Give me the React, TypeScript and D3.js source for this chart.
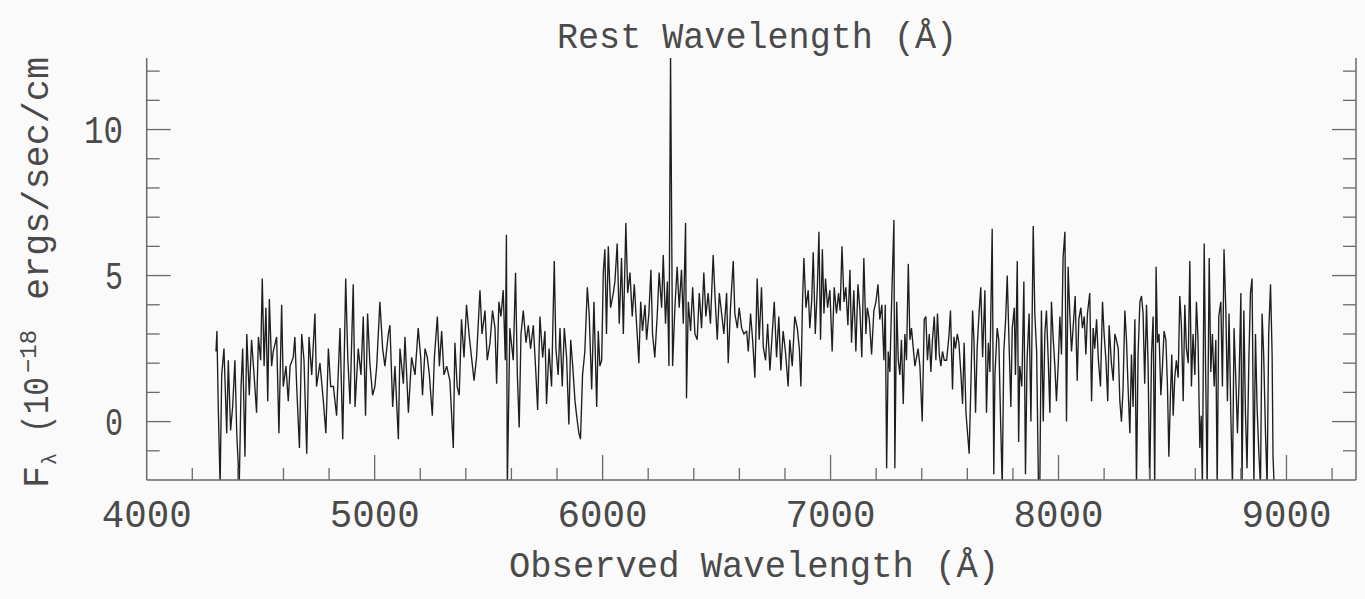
import React from "react";
import * as d3 from "d3";

// Observed wavelength (Å) / flux (1e-18 ergs/sec/cm^2/Å) pairs
const seg4300: [number, number][] = [
  [4304,2.4],[4308,3.1],[4314,0.5],[4322,-2.2],[4329,1.6],[4339,2.5],[4351,-0.4],[4358,2.1],[4368,-0.3],[4377,0.5],[4387,2.1],[4395,-0.4],[4406,-2.2],[4414,1.2],[4421,2.5],[4431,-1.2],[4439,3.0],[4450,0.9],[4460,2.8],[4471,1.6],[4482,0.3],[4490,2.9],[4500,2.1],[4507,4.9],[4515,1.9],[4523,3.9],[4531,0.7],[4538,4.2],[4548,1.9],[4555,2.4],[4570,2.9],[4580,-0.4],[4592,4.0],[4599,1.2],[4611,1.9],[4621,0.7],[4629,1.9],[4643,2.2],[4650,2.9],[4658,1.2],[4670,-0.9],[4680,3.0],[4690,2.1],[4702,-1.1],[4712,2.9],[4724,1.6],[4738,3.7],[4745,1.2],[4760,2.0],[4775,0.7],[4786,-0.4],[4797,2.5],
];
const seg4800: [number, number][] = [
  [4807,1.2],[4819,1.2],[4833,0.2],[4848,3.2],[4860,-0.6],[4873,4.9],[4882,2.2],[4892,0.6],[4906,4.7],[4914,0.5],[4928,2.5],[4940,1.6],[4950,3.6],[4960,0.2],[4969,3.7],[4979,2.0],[4991,0.9],[5001,1.2],[5009,1.9],[5023,4.1],[5035,2.5],[5045,1.9],[5060,3.0],[5067,3.3],[5079,0.5],[5089,1.9],[5104,-0.6],[5111,2.5],[5126,1.3],[5133,2.9],[5148,0.3],[5162,2.2],[5177,1.6],[5191,3.2],[5202,2.2],[5210,0.9],[5221,2.5],[5231,2.2],[5240,1.6],[5253,0.2],[5262,2.2],[5275,3.6],[5284,1.9],[5294,3.1],
];
const seg5300: [number, number][] = [
  [5304,1.6],[5316,1.9],[5330,1.4],[5345,-0.9],[5352,2.7],[5362,1.2],[5371,0.9],[5381,3.5],[5392,2.2],[5403,4.0],[5414,3.0],[5425,2.2],[5436,1.4],[5447,2.2],[5462,4.5],[5471,3.0],[5484,3.8],[5494,2.1],[5506,2.7],[5517,3.8],[5528,3.2],[5535,1.3],[5545,4.1],[5554,3.6],[5564,4.5],[5573,2.1],[5578,6.4],[5582,-2.3],[5593,3.2],[5608,2.1],[5618,5.1],[5626,1.6],[5634,-0.2],[5642,3.0],[5652,3.8],[5664,2.7],[5674,3.3],[5684,2.5],[5696,3.3],[5707,1.7],[5715,0.4],[5725,3.6],[5737,2.2],[5747,3.1],[5754,0.6],[5765,2.5],[5776,1.2],[5788,5.5],[5795,2.5],
];
const seg5800: [number, number][] = [
  [5805,1.6],[5813,3.2],[5823,1.2],[5832,3.2],[5842,2.2],[5852,-0.1],[5860,2.8],[5868,2.0],[5879,0.7],[5886,0.2],[5896,-0.4],[5903,-0.6],[5912,1.6],[5922,2.4],[5933,4.6],[5941,3.7],[5952,1.1],[5962,4.1],[5974,0.5],[5981,3.1],[5988,1.9],[5996,2.1],[6003,5.1],[6010,5.9],[6017,3.0],[6025,6.0],[6035,3.9],[6047,4.4],[6054,4.8],[6064,6.1],[6073,3.35],[6083,5.6],[6091,3.0],[6102,6.8],[6110,4.4],[6120,5.1],[6130,3.6],[6139,4.7],[6149,3.35],[6159,2.0],[6167,4.1],[6175,3.1],[6186,4.0],[6193,2.8],[6203,3.7],[6212,5.2],[6219,3.0],[6229,2.2],[6240,3.7],[6248,5.1],[6259,3.9],[6266,5.7],[6276,3.35],[6284,4.8],[6291,1.9],
];
const seg6300: [number, number][] = [
  [6298,12.6],[6307,1.9],[6317,3.9],[6327,5.3],[6336,3.9],[6346,5.2],[6354,3.35],[6364,6.8],[6368,0.8],[6376,4.1],[6386,3.1],[6395,4.6],[6405,3.0],[6415,2.8],[6424,4.4],[6434,3.2],[6444,5.1],[6453,3.6],[6463,4.4],[6473,3.35],[6485,5.7],[6493,4.3],[6503,2.8],[6512,4.4],[6522,3.7],[6532,3.0],[6544,4.4],[6551,2.0],[6561,3.9],[6573,5.5],[6580,3.7],[6591,3.2],[6599,3.9],[6610,3.2],[6620,3.0],[6632,3.1],[6639,2.4],[6649,3.7],[6658,2.8],[6668,1.5],[6678,4.9],[6687,2.8],[6697,4.6],[6705,2.55],[6715,2.1],[6724,3.35],[6734,1.75],[6744,3.0],[6753,4.1],[6763,2.2],[6773,3.6],[6782,1.75],[6792,3.1],[6802,2.4],[6814,1.2],[6821,2.8],[6832,1.9],[6843,3.6],
];
const seg6850: [number, number][] = [
  [6854,3.2],[6863,2.5],[6870,1.2],[6877,4.1],[6883,5.6],[6892,3.9],[6902,4.5],[6909,3.2],[6917,4.1],[6924,5.8],[6933,3.0],[6942,4.6],[6949,6.5],[6956,2.8],[6964,5.9],[6971,3.7],[6978,4.9],[6987,3.9],[6997,4.5],[7007,2.4],[7016,4.6],[7026,3.7],[7035,4.4],[7042,3.8],[7050,6.0],[7059,4.1],[7067,4.6],[7076,3.3],[7085,5.2],[7092,2.7],[7102,4.5],[7111,2.4],[7120,4.7],[7129,3.8],[7137,2.2],[7146,5.6],[7155,3.0],[7161,3.9],[7170,3.5],[7180,2.3],[7190,3.8],[7199,4.1],[7208,4.7],[7216,3.5],[7225,4.0],[7234,2.1],[7240,4.0],[7246,-1.6],[7253,2.4],[7260,1.7],[7269,4.4],[7278,6.9],[7282,-1.6],[7290,4.1],[7297,2.1],[7304,1.6],[7311,2.8],[7319,0.6],[7326,3.0],[7333,2.1],[7341,5.4],[7348,2.8],[7355,3.2],[7363,2.5],[7370,1.9],[7377,2.2],[7384,2.5],[7392,1.9],
];
const seg7400: [number, number][] = [
  [7402,0.0],[7411,3.5],[7418,3.6],[7425,2.1],[7433,3.0],[7440,1.7],[7447,2.8],[7455,3.6],[7462,2.1],[7469,3.7],[7477,2.3],[7484,1.9],[7491,2.4],[7499,2.1],[7509,2.1],[7519,2.9],[7526,3.8],[7535,1.1],[7541,2.9],[7548,2.5],[7556,3.0],[7563,2.7],[7572,1.6],[7579,0.6],[7586,2.7],[7594,0.3],[7601,-0.4],[7608,-1.1],[7616,1.4],[7623,3.8],[7629,2.8],[7636,0.3],[7643,2.5],[7652,3.8],[7659,4.6],[7667,2.2],[7677,4.5],[7684,0.3],[7692,2.7],[7699,1.7],[7709,6.6],[7716,-1.8],[7721,1.6],[7731,3.2],[7738,2.8],[7746,0.0],[7753,-2.2],[7760,2.4],[7768,3.5],[7775,5.0],[7784,2.4],[7791,0.5],[7797,3.2],[7806,3.9],[7811,1.6],[7819,5.5],[7825,-0.7],[7830,1.9],[7839,1.2],[7848,4.8],[7855,-1.8],[7862,2.1],[7871,3.7],[7879,0.0],[7889,6.7],[7896,3.7],
];
const seg7900: [number, number][] = [
  [7904,2.4],[7912,-2.2],[7918,-2.2],[7925,3.8],[7933,0.0],[7940,3.0],[7947,3.8],[7955,2.1],[7962,0.3],[7969,4.1],[7977,2.8],[7984,1.9],[7991,0.7],[7999,2.0],[8006,3.6],[8013,2.3],[8020,5.6],[8028,6.5],[8035,0.0],[8042,5.3],[8050,3.6],[8057,2.4],[8064,3.2],[8073,4.3],[8082,1.4],[8089,3.5],[8098,3.9],[8105,3.2],[8113,3.6],[8120,2.3],[8127,3.7],[8137,4.4],[8145,0.7],[8152,3.2],[8159,2.5],[8167,3.5],[8175,2.1],[8184,1.2],[8193,4.1],[8200,3.0],[8208,2.1],[8216,0.7],[8222,3.3],[8232,2.0],[8240,1.4],[8247,3.0],[8254,2.8],[8262,2.5],[8269,0.7],[8276,0.0],[8283,1.1],[8291,3.8],[8298,2.8],[8305,1.2],[8313,-0.4],[8320,2.3],[8327,0.5],[8335,3.5],[8342,-2.2],[8349,2.3],[8357,4.1],[8364,4.3],[8371,3.7],[8378,1.3],[8386,4.0],[8393,1.9],
];
const seg8400: [number, number][] = [
  [8400,-2.2],[8408,2.3],[8415,3.6],[8422,-2.2],[8428,5.3],[8434,2.7],[8441,3.0],[8449,0.9],[8456,1.9],[8463,3.1],[8471,2.8],[8478,1.2],[8484,-1.2],[8491,0.9],[8497,2.3],[8503,0.2],[8510,1.5],[8517,2.1],[8525,1.5],[8532,4.3],[8539,3.3],[8547,0.7],[8554,4.0],[8561,2.5],[8569,2.0],[8576,5.5],[8583,1.2],[8590,3.0],[8598,1.6],[8605,4.1],[8612,2.8],[8620,-0.9],[8626,0.2],[8631,-2.2],[8639,6.1],[8645,1.9],[8652,-2.2],[8661,5.6],[8668,1.7],[8675,3.0],[8683,1.2],[8690,2.8],[8696,-2.2],[8703,3.6],[8712,4.1],[8719,1.2],[8726,5.9],[8734,3.8],[8741,0.7],[8748,3.7],[8756,0.2],[8763,-2.2],[8770,3.2],[8778,1.4],[8785,-0.4],[8792,1.4],[8800,4.4],[8805,-2.2],[8813,3.8],[8820,0.3],[8827,-1.6],[8835,2.1],[8842,4.4],[8849,4.9],[8857,-2.2],[8864,3.0],[8871,0.5],[8879,-1.1],[8886,-2.2],[8893,3.7],[8900,2.3],[8908,-0.4],[8915,-2.2],[8922,3.0],[8930,4.7],[8937,2.3],[8941,-1.2],[8946,-2.2],
];

const xMajorTicks = [4000, 5000, 6000, 7000, 8000, 9000];
const yMajorTicks = [0, 5, 10];
const titleText = "Rest Wavelength (Å)";
const xLabelText = "Observed Wavelength (Å)";

const W = 1365, H = 599;
const L = 146.7, R = 1356, T = 58, B = 480;
const FONT = "'Liberation Mono', 'DejaVu Sans Mono', monospace";
const TXT = "#4a4a4a";
const AX = "#6a6a6a";

export default function App() {
  const data = [...seg4300, ...seg4800, ...seg5300, ...seg5800, ...seg6300, ...seg6850, ...seg7400, ...seg7900, ...seg8400];
  const x = d3.scaleLinear().domain([4000, 9305]).range([L, R]);
  const y = d3.scaleLinear().domain([-2, 12.45]).range([B, T]);
  const line = d3.line<[number, number]>().x(d => x(d[0])).y(d => y(d[1]));
  const yTicks = d3.range(-1, 13);
  const xTicks = d3.range(4200, 9301, 200);

  return (
    <svg width={W} height={H} style={{ position: "absolute", left: 0, top: 0, background: "#fafafa" }}>
      <defs>
        <clipPath id="plot"><rect x={L} y={T} width={R - L} height={B - T} /></clipPath>
      </defs>
      <rect x={0} y={0} width={W} height={H} fill="#fafafa" />
      <path d={line(data) || ""} fill="none" stroke="#1e1e1e" strokeWidth={1.35} strokeLinejoin="miter" strokeMiterlimit={2} clipPath="url(#plot)" />
      {/* axes */}
      <line x1={L} y1={T} x2={L} y2={B} stroke={AX} strokeWidth={1.5} />
      <line x1={R} y1={T} x2={R} y2={B} stroke={AX} strokeWidth={1.5} />
      <line x1={L} y1={B} x2={R} y2={B} stroke={AX} strokeWidth={1.5} />
      {yTicks.map(v => {
        const major = yMajorTicks.includes(v);
        const len = major ? 24 : 13;
        return (
          <g key={"y" + v}>
            <line x1={L} x2={L + len} y1={y(v)} y2={y(v)} stroke={AX} strokeWidth={1.3} />
            <line x1={R} x2={R - len} y1={y(v)} y2={y(v)} stroke={AX} strokeWidth={1.3} />
          </g>
        );
      })}
      {xTicks.map(t => {
        const major = xMajorTicks.includes(t);
        const len = major ? 25 : 12;
        return <line key={"x" + t} x1={x(t)} x2={x(t)} y1={B} y2={B - len} stroke={AX} strokeWidth={1.3} />;
      })}
      {/* tick labels */}
      {xMajorTicks.map(t => (
        <text key={"xl" + t} x={x(t)} y={527} textAnchor="middle" fontFamily={FONT} fontSize={38} fill={TXT}
          textLength={90} lengthAdjust="spacingAndGlyphs">{String(t)}</text>
      ))}
      {yMajorTicks.map(v => (
        <text key={"yl" + v} x={123} y={y(v) + 13.5} textAnchor="end" fontFamily={FONT} fontSize={38} fill={TXT}
          textLength={String(v).length === 1 ? 18 : 39} lengthAdjust="spacingAndGlyphs">{String(v)}</text>
      ))}
      {/* titles */}
      <text x={557} y={48} fontFamily={FONT} fontSize={36} fill={TXT} textLength={400} lengthAdjust="spacingAndGlyphs">{titleText}</text>
      <text x={509} y={577} fontFamily={FONT} fontSize={36} fill={TXT} textLength={490} lengthAdjust="spacingAndGlyphs">{xLabelText}</text>
      <g transform="translate(48,488) rotate(-90)" fontFamily={FONT} fill={TXT}>
        <text x={0} y={0} fontSize={36} textLength={22} lengthAdjust="spacingAndGlyphs">F</text>
        <text x={23} y={8} fontSize={20}>λ</text>
        <text x={55} y={0} fontSize={36} textLength={56} lengthAdjust="spacingAndGlyphs">(10</text>
        <text x={115} y={-12} fontSize={24} textLength={43} lengthAdjust="spacingAndGlyphs">−18</text>
        <text x={188} y={0} fontSize={36} textLength={243} lengthAdjust="spacingAndGlyphs">ergs/sec/cm</text>
      </g>
    </svg>
  );
}
